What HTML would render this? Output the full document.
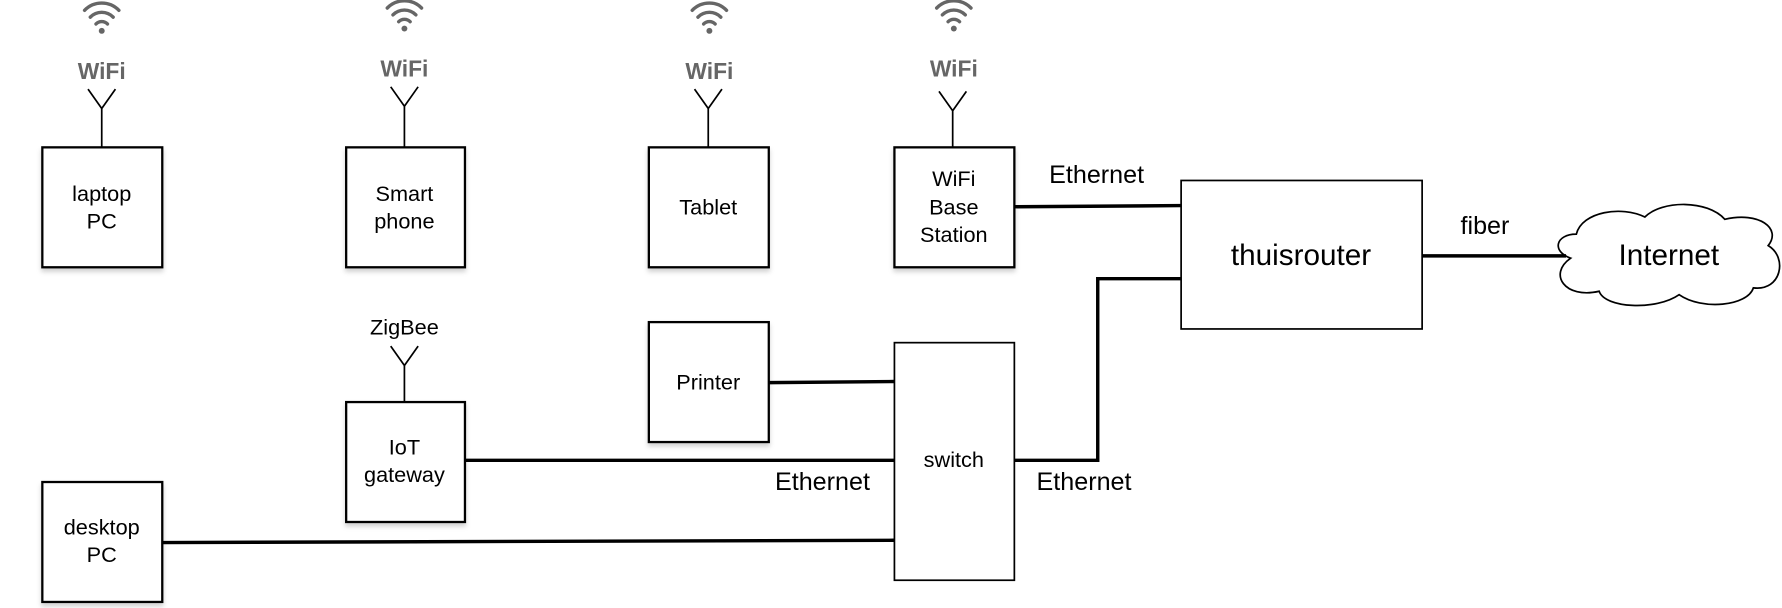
<!DOCTYPE html>
<html><head><meta charset="utf-8"><style>
html,body{margin:0;padding:0;background:#fff;}
svg{display:block;}
text{font-family:"Liberation Sans",Arial,sans-serif;}
</style></head><body>
<svg width="1782" height="608" viewBox="0 0 1560 532.3" xmlns="http://www.w3.org/2000/svg">
<defs>
<filter id="sh" x="-10%" y="-10%" width="130%" height="130%"><feDropShadow dx="0" dy="3" stdDeviation="2" flood-color="#000" flood-opacity="0.18"/></filter>
<g id="wifi" fill="none" stroke="#666" stroke-width="3" stroke-linecap="round">
<path d="M-15,-12 A21,21 0 0 1 15,-12"/>
<path d="M-10,-6 A14,14 0 0 1 10,-6"/>
<path d="M-5,0 A7,7 0 0 1 5,0"/>
<circle cx="0" cy="6" r="2.6" fill="#666" stroke="none"/>
</g>
</defs>
<g font-size="20" font-weight="bold" fill="#666" text-anchor="middle">
<use href="#wifi" x="89" y="21"/><text x="89" y="69">WiFi</text>
<use href="#wifi" x="354" y="19"/><text x="354" y="67">WiFi</text>
<use href="#wifi" x="621" y="21"/><text x="621" y="69">WiFi</text>
<use href="#wifi" x="835" y="19"/><text x="835" y="67">WiFi</text>
</g>
<g fill="none" stroke="#000" stroke-width="1.5">
<path d="M77,78 L89,95 L101,78 M89,95 V129"/>
<path d="M342,76 L354,93 L366,76 M354,93 V129"/>
<path d="M608,78 L620,95 L632,78 M620,95 V129"/>
<path d="M822,80 L834,97 L846,80 M834,97 V129"/>
<path d="M342,303 L354,320 L366,303 M354,320 V352"/>
</g>
<g fill="#fff" stroke="#000" stroke-width="2" filter="url(#sh)">
<rect x="37" y="129" width="105" height="105"/>
<rect x="303" y="129" width="104" height="105"/>
<rect x="568" y="129" width="105" height="105"/>
<rect x="783" y="129" width="105" height="105"/>
<rect x="568" y="282" width="105" height="105"/>
<rect x="303" y="352" width="104" height="105"/>
<rect x="37" y="422" width="105" height="105"/>
</g>
<g fill="#fff" stroke="#000" stroke-width="1.5">
<rect x="783" y="300" width="105" height="208"/>
<rect x="1034" y="158" width="211" height="130"/>
<path d="M1380,205 C1385,185 1420,180 1440,190 C1455,175 1495,175 1510,192 C1540,185 1560,200 1548,215 C1565,225 1560,255 1535,252 C1530,268 1490,272 1470,258 C1450,272 1405,270 1400,255 C1370,262 1355,240 1375,226 C1358,220 1362,205 1380,205 Z"/>
</g>
<g fill="none" stroke="#000" stroke-width="3">
<path d="M888,181 L1034,180"/>
<path d="M1245,224 H1371"/>
<path d="M673,335 L783,334"/>
<path d="M407,403 H783"/>
<path d="M142,475 L783,473"/>
<path d="M888,403 H961 V244 H1034"/>
</g>
<g font-size="19" fill="#000" text-anchor="middle">
<text x="89" y="176">laptop</text><text x="89" y="200">PC</text>
<text x="354" y="176">Smart</text><text x="354" y="200">phone</text>
<text x="620" y="188">Tablet</text>
<text x="835" y="163">WiFi</text><text x="835" y="188">Base</text><text x="835" y="212">Station</text>
<text x="620" y="341">Printer</text>
<text x="354" y="398">IoT</text><text x="354" y="422">gateway</text>
<text x="89" y="468">desktop</text><text x="89" y="492">PC</text>
<text x="835" y="409">switch</text>
<text x="354" y="293">ZigBee</text>
</g>
<g font-size="22" fill="#000" text-anchor="middle">
<text x="960" y="160">Ethernet</text>
<text x="1300" y="205">fiber</text>
<text x="720" y="429">Ethernet</text>
<text x="949" y="429">Ethernet</text>
<text x="1139" y="232" font-size="26">thuisrouter</text>
<text x="1461" y="232" font-size="26">Internet</text>
</g>
</svg>
</body></html>
